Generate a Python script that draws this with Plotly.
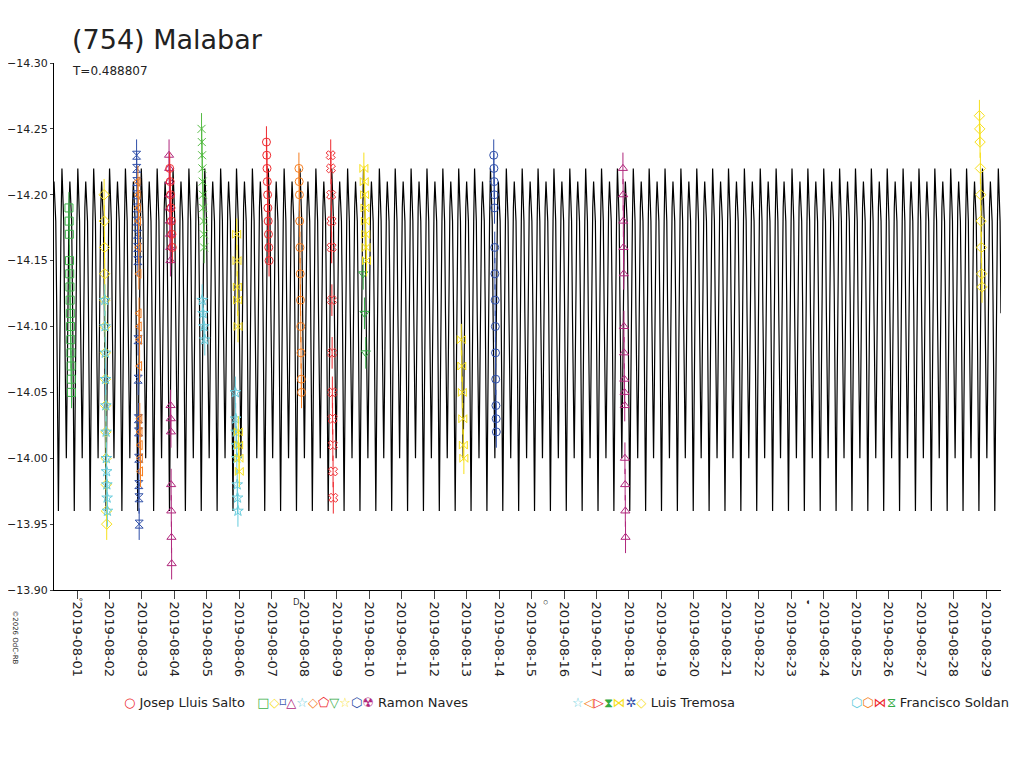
import plotly.graph_objects as go
from datetime import datetime, timedelta

period_days = 0.488807
model_start = datetime(2019, 7, 31, 7, 0)
model_end = datetime(2019, 8, 29, 11, 0)
# one rotation of the model lightcurve (mag)
model_shape = [-14.21, -14.19, -14.18, -14.12, -14.03, -13.96, -14.04, -14.13, -14.18,
               -14.22, -14.19, -14.18, -14.11, -14.04, -14.00, -14.06, -14.14, -14.19]

session_days = ["2019-07-31 19:00", "2019-08-01 21:00", "2019-08-01 21:30", "2019-08-02 21:00",
                "2019-08-02 22:00", "2019-08-03 21:00", "2019-08-03 21:30", "2019-08-04 21:00",
                "2019-08-04 21:30", "2019-08-05 22:00", "2019-08-05 23:00", "2019-08-06 21:00",
                "2019-08-07 21:00", "2019-08-08 20:30", "2019-08-09 20:30", "2019-08-09 21:00",
                "2019-08-12 21:00", "2019-08-13 21:00", "2019-08-17 20:30", "2019-08-28 20:00"]
session_colors = ["#3cb34a", "#f7e01b", "#66ccdd", "#2f4fa8", "#f57e20", "#b0277c", "#ee2a2f",
                  "#55bb44", "#66ccdd", "#66ccdd", "#f7e01b", "#ee2a2f", "#f57e20", "#ee2a2f",
                  "#33aa44", "#f7e01b", "#f7e01b", "#2f4fa8", "#b0277c", "#f7e01b"]
session_symbols = ["square-open", "diamond-open", "star-open", "hourglass-open", "triangle-left-open",
                   "triangle-up-open", "circle-open", "x-thin-open", "star-open", "star-open",
                   "bowtie-open", "circle-open", "circle-open", "x-open", "triangle-down-open",
                   "bowtie-open", "bowtie-open", "circle-open", "triangle-up-open", "diamond-open"]
session_mags = [
    [-14.19, -14.18, -14.17, -14.15, -14.14, -14.13, -14.12, -14.11, -14.10, -14.09, -14.08, -14.07, -14.06, -14.05],
    [-14.20, -14.18, -14.16, -14.14, -14.12, -14.10, -14.08, -14.06, -14.04, -14.02, -14.00, -13.98, -13.96, -13.95],
    [-14.12, -14.10, -14.08, -14.06, -14.04, -14.02, -14.00, -13.99, -13.98, -13.97, -13.96],
    [-14.23, -14.22, -14.21, -14.20, -14.19, -14.18, -14.17, -14.16, -14.15, -14.09, -14.06, -14.03, -14.02, -14.00, -13.98, -13.97, -13.95],
    [-14.21, -14.20, -14.19, -14.18, -14.16, -14.14, -14.11, -14.10, -14.09, -14.07, -14.03, -14.02, -14.01, -14.00, -13.99],
    [-14.23, -14.22, -14.21, -14.20, -14.19, -14.18, -14.17, -14.16, -14.15, -14.04, -14.03, -14.02, -13.98, -13.96, -13.94, -13.92],
    [-14.22, -14.21, -14.20, -14.19, -14.18, -14.17, -14.16],
    [-14.25, -14.24, -14.23, -14.22, -14.21, -14.20, -14.19, -14.18, -14.17, -14.16],
    [-14.12, -14.11, -14.10, -14.09],
    [-14.05, -14.03, -14.02, -14.01, -14.00, -13.98, -13.97, -13.96],
    [-14.17, -14.15, -14.13, -14.12, -14.10, -14.02, -14.01, -14.00, -13.99],
    [-14.24, -14.23, -14.22, -14.21, -14.20, -14.19, -14.18, -14.17, -14.16, -14.15],
    [-14.22, -14.21, -14.20, -14.18, -14.16, -14.14, -14.12, -14.10, -14.08, -14.06, -14.05],
    [-14.23, -14.22, -14.20, -14.18, -14.16, -14.12, -14.08, -14.05, -14.03, -14.01, -13.99, -13.97],
    [-14.14, -14.11, -14.08],
    [-14.22, -14.21, -14.20, -14.19, -14.18, -14.17, -14.16, -14.15],
    [-14.09, -14.07, -14.05, -14.03, -14.01, -14.00],
    [-14.23, -14.22, -14.21, -14.20, -14.19, -14.16, -14.14, -14.12, -14.10, -14.08, -14.06, -14.04, -14.03, -14.02],
    [-14.22, -14.20, -14.18, -14.16, -14.14, -14.10, -14.08, -14.06, -14.05, -14.04, -14.00, -13.98, -13.96, -13.94],
    [-14.26, -14.25, -14.24, -14.22, -14.20, -14.18, -14.16, -14.14, -14.13],
]

fig = go.Figure()

# model curve
mx, my = [], []
n = len(model_shape)
k = 0
while True:
    t = model_start + timedelta(days=period_days * k / n)
    if t > model_end:
        break
    mx.append(t)
    my.append(model_shape[k % n])
    k += 1
fig.add_trace(go.Scatter(x=mx, y=my, mode="lines", line=dict(color="black", width=1.2),
                         showlegend=False, hoverinfo="skip"))

for d, c, s, mags in zip(session_days, session_colors, session_symbols, session_mags):
    t0 = datetime.strptime(d, "%Y-%m-%d %H:%M")
    xs = [t0 + timedelta(days=0.08 * (i / max(len(mags) - 1, 1) - 0.5)) for i in range(len(mags))]
    fig.add_trace(go.Scatter(x=xs, y=mags, mode="markers",
                             marker=dict(symbol=s, color=c, size=8, line=dict(width=1, color=c)),
                             error_y=dict(type="constant", value=0.012, color=c, thickness=1, width=0),
                             showlegend=False))

ticks = [datetime(2019, 8, 1) + timedelta(days=i) for i in range(29)]
fig.update_xaxes(range=[model_start, model_end], tickvals=ticks, automargin=False,
                 ticktext=[t.strftime("%Y-%m-%d") for t in ticks], tickangle=90,
                 ticks="outside", ticklen=8, showgrid=False, showline=True, linecolor="black",
                 tickfont=dict(family="DejaVu Sans", size=13, color="#222"), zeroline=False)
fig.update_yaxes(range=[-13.90, -14.30], dtick=0.05, tick0=-14.30, tickformat=".2f",
                 ticks="outside", ticklen=3, showgrid=False, showline=True, linecolor="black",
                 automargin=False,
                 tickfont=dict(family="DejaVu Sans", size=11, color="#222"), zeroline=False)

legend_html = ("<span style='color:#ee2a2f'>○</span> Josep Lluis Salto   "
               "<span style='color:#3cb34a'>□</span><span style='color:#f7e01b'>◇</span>"
               "<span style='color:#2f4fa8'>⌑</span><span style='color:#b0277c'>△</span>"
               "<span style='color:#66ccdd'>☆</span><span style='color:#f57e20'>◇</span>"
               "<span style='color:#ee2a2f'>⬠</span><span style='color:#33aa44'>▽</span>"
               "<span style='color:#f7e01b'>☆</span><span style='color:#2f4fa8'>⬡</span>"
               "<span style='color:#b0277c'>☢</span> Ramon Naves")
annotations = [
    dict(x=0.017, y=1.012, yanchor="bottom", text="(754) Malabar",
         font=dict(size=27, family="DejaVu Sans", color="#222")),
    dict(x=0.017, y=1.002, yanchor="top", text="T=0.488807",
         font=dict(size=12, family="DejaVu Sans", color="#222")),
    dict(x=0.072, y=-0.214, yanchor="middle", text=legend_html,
         font=dict(size=13, family="DejaVu Sans", color="#222")),
    dict(x=0.545, y=-0.214, yanchor="middle",
         text="<span style='color:#66ccdd'>☆</span><span style='color:#f57e20'>◁</span>"
         "<span style='color:#ee2a2f'>▷</span><span style='color:#33aa44'>⧗</span>"
         "<span style='color:#f7e01b'>⋈</span><span style='color:#2f4fa8'>✲</span>"
         "<span style='color:#f7e01b'>◇</span> Luis Tremosa",
         font=dict(size=13, family="DejaVu Sans", color="#222")),
    dict(x=0.84, y=-0.214, yanchor="middle",
         text="<span style='color:#66ccdd'>⬡</span><span style='color:#f57e20'>⬡</span>"
         "<span style='color:#ee2a2f'>⋈</span><span style='color:#33aa44'>⧖</span> Francisco Soldan",
         font=dict(size=13, family="DejaVu Sans", color="#222")),
]
for a in annotations:
    fig.add_annotation(xref="paper", yref="paper", xanchor="left", showarrow=False, **a)
fig.add_annotation(xref="paper", yref="paper", x=-0.042, y=-0.035, text="©2026 OdC-RB",
                   textangle=90, showarrow=False, xanchor="center", yanchor="top",
                   font=dict(size=7, family="DejaVu Sans", color="#222"))
for d, sym in [("2019-08-01 03:00", "°"), ("2019-08-07 18:00", "D"),
               ("2019-08-15 10:00", "○"), ("2019-08-23 12:00", "◖")]:
    fig.add_annotation(x=d, xref="x", yref="paper", y=-0.005, yanchor="top", text=sym,
                       showarrow=False, font=dict(size=9, color="#222"))

fig.update_layout(width=1024, height=768, plot_bgcolor="white", paper_bgcolor="white",
                  margin=dict(l=46, r=31, t=55, b=186), showlegend=False)
fig.write_html("out.html")
